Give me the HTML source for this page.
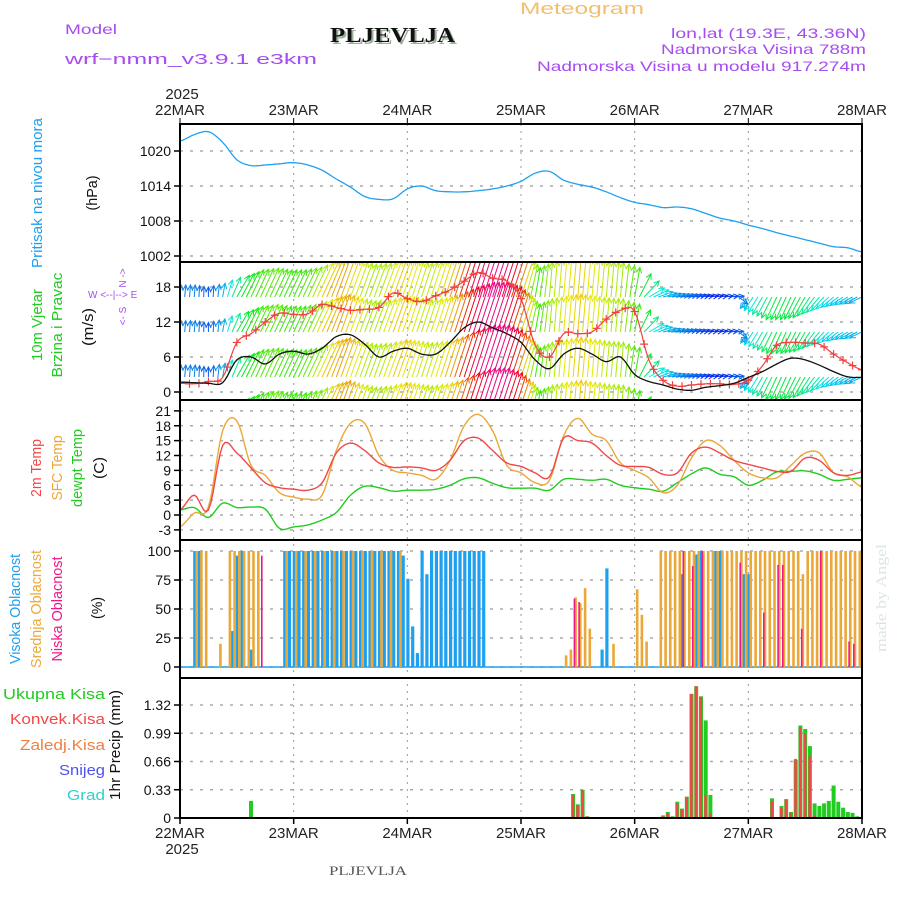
<!DOCTYPE html>
<html><head><meta charset="utf-8"><style>
html,body{margin:0;padding:0;background:#fff}
svg{display:block;font-family:"Liberation Sans",sans-serif}
</style></head><body>
<svg id="chart" width="900" height="900" viewBox="0 0 900 900" xmlns="http://www.w3.org/2000/svg">
<rect width="900" height="900" fill="#fff"/>
<text x="65" y="34" fill="#a64cf0" font-size="14" textLength="52" lengthAdjust="spacingAndGlyphs">Model</text>
<text x="65" y="64" fill="#a64cf0" font-size="15" textLength="252" lengthAdjust="spacingAndGlyphs">wrf−nmm_v3.9.1  e3km</text>
<text x="332" y="44" fill="#9ab09a" font-size="21" font-weight="bold" font-family="Liberation Serif,serif" textLength="125" lengthAdjust="spacingAndGlyphs">PLJEVLJA</text>
<text x="330" y="42" fill="#111" font-size="21" font-weight="bold" font-family="Liberation Serif,serif" textLength="125" lengthAdjust="spacingAndGlyphs">PLJEVLJA</text>
<text x="520" y="14" fill="#f0c070" font-size="17" textLength="124" lengthAdjust="spacingAndGlyphs">Meteogram</text>
<text x="866" y="38" fill="#a64cf0" font-size="14" text-anchor="end" textLength="195" lengthAdjust="spacingAndGlyphs">lon,lat (19.3E, 43.36N)</text>
<text x="866" y="54" fill="#a64cf0" font-size="14" text-anchor="end" textLength="205" lengthAdjust="spacingAndGlyphs">Nadmorska Visina 788m</text>
<text x="866" y="71" fill="#a64cf0" font-size="14" text-anchor="end" textLength="329" lengthAdjust="spacingAndGlyphs">Nadmorska Visina u modelu 917.274m</text>
<text x="329" y="875" fill="#555" font-size="13" font-family="Liberation Serif,serif" textLength="78" lengthAdjust="spacingAndGlyphs">PLJEVLJA</text>
<text transform="translate(886,652) rotate(-90)" fill="#dde6dd" font-size="15" font-family="Liberation Serif,serif" textLength="108" lengthAdjust="spacingAndGlyphs">made by Angel</text>
<g id="g"></g>
</svg>
<script>
// ---- data (3-hourly, h = 0..144) ----
const hours3 = [0,3,6,9,12,15,18,21,24,27,30,33,36,39,42,45,48,51,54,57,60,63,66,69,72,75,78,81,84,87,90,93,96,99,102,105,108,111,114,117,120,123,126,129,132,135,138,141,144];
const dayLabels = ["22MAR","23MAR","24MAR","25MAR","26MAR","27MAR","28MAR"];
const pressure = [1021.7,1022.8,1023.3,1021.5,1018.5,1017.5,1017.6,1017.8,1018.0,1017.6,1016.7,1015.2,1013.8,1012.2,1011.7,1011.8,1013.5,1014.0,1013.2,1013.0,1013.0,1013.2,1013.5,1014.0,1014.8,1016.2,1016.5,1015.0,1014.3,1013.8,1013.0,1012.0,1011.2,1010.8,1010.3,1010.4,1010.1,1009.3,1008.5,1008.0,1007.3,1006.7,1006.0,1005.4,1004.8,1004.2,1003.6,1003.4,1002.7];
const pressTicks = [1002,1008,1014,1020];
const windSpeed = [1.7,1.6,1.5,1.6,5.5,6,4.8,6.5,7,6.5,7.5,9.5,9.8,8.2,6,7,7.5,6.5,6.5,8.5,11,12,11,10,8.5,5.5,4,6.5,7.5,6.5,5.2,6,3,1.8,1.2,0.5,0.3,0.8,1.1,1.5,2.5,3.5,4.8,5.8,5.5,4.6,3.5,2.6,2.5];
const windGust = [1.5,1.4,1.8,2.5,8.5,10,12,13.5,13.3,13.4,15,14.5,14,14.2,14.5,17,16,15.5,16.5,17.5,19,20.5,19.5,19,16,8,6,10,10,10.3,12.5,14,13.8,5.5,2,1,1.2,1.4,1.4,1.3,2,4.5,8,8.5,8.4,8.2,6.5,5,3.8];
const arrowLen = [12,12,10,14,25,30,32,30,30,33,40,42,38,35,36,40,38,36,38,42,50,55,55,50,40,30,35,38,40,38,36,35,30,18,14,12,10,8,8,10,14,20,25,25,24,20,16,15,14];
const arrowDir = [5,5,0,10,30,25,25,25,25,25,25,20,20,20,20,20,18,18,18,18,18,18,18,18,18,10,5,5,5,5,5,5,10,60,75,80,80,80,80,85,215,210,205,205,210,220,230,240,245];
const windTicks = [0,6,12,18];
const temp2m = [1,4,1,14,12.5,9.5,6.5,5.5,5.2,5,6.5,12.5,14.5,13,10.5,9.6,9.7,9.5,9,11,15,15.5,13,10.5,9.8,8.5,7.7,15.5,15,14.5,12,10,9.8,9.6,8.2,8.5,12.5,13.7,12.5,11,10.2,9.5,8.8,8.8,11.5,11,8.5,8,8.7];
const tempSfc = [-2.4,0.4,1.6,17,19,10,8,4.5,3.6,3.2,4,13,18.5,18.5,12,9,8.5,8,7.2,11,18,20.3,17,10,8.5,6.5,7,16,19.5,16.3,15,10.5,9,7.5,4.5,6,11.5,15,14,11,8.5,7.5,7.5,10,12.5,12.5,8.5,7.7,5.6];
const tempDew = [1,1.5,-0.5,2.4,1.5,1.6,1.2,-2.7,-2.4,-2,-1,0.5,4,5.8,5.5,4.8,5,5,5.2,6,7.3,7.5,6.4,5.5,5.4,5.4,5,7.2,7.2,7,7.2,6,5.5,5.2,4.8,6.5,8.3,9.5,8.2,7.7,6,7,8.7,8.8,8.9,8.2,7,7.2,7.5];
const tempTicks = [-3,0,3,6,9,12,15,18,21];
const cloudTicks = [0,25,50,75,100];
const precipTicks = [0,0.33,0.66,0.99,1.32];
// hourly cloud cover (%), listed as [hour, value]
const cloudHigh = [[3,100],[4,100],[11,31],[12,96],[13,100],[15,15],[22,100],[23,100],[24,100],[25,100],[26,100],[27,100],[28,100],[29,100],[30,100],[31,100],[32,100],[33,100],[34,100],[35,100],[36,100],[37,100],[38,100],[39,100],[40,100],[41,100],[42,100],[43,100],[44,100],[45,100],[46,100],[47,96],[48,76],[49,35],[50,12],[51,100],[52,80],[53,100],[54,100],[55,100],[56,100],[57,100],[58,100],[59,100],[60,100],[61,100],[62,100],[63,100],[64,100],[89,15],[90,85],[106,80],[109,97],[110,100],[113,100],[114,100],[119,80],[120,80]];
const cloudMid = [[3,100],[4,100],[5,100],[8,20],[10,100],[11,100],[12,100],[13,100],[14,100],[15,100],[16,100],[22,100],[24,100],[26,100],[28,100],[30,100],[32,100],[34,100],[36,100],[38,100],[40,100],[42,100],[44,100],[46,100],[81,10],[82,15],[83,60],[84,55],[85,68],[86,33],[91,20],[96,67],[97,45],[98,22],[101,100],[102,100],[103,100],[104,100],[105,100],[106,100],[107,100],[108,100],[109,100],[110,100],[111,100],[112,100],[113,100],[114,100],[115,100],[116,100],[117,100],[118,100],[119,100],[120,100],[121,100],[122,100],[123,100],[124,100],[125,100],[126,100],[127,100],[128,100],[129,100],[130,100],[131,80],[132,100],[133,100],[134,100],[135,100],[136,100],[137,100],[138,100],[139,100],[140,100],[141,100],[142,100],[143,100]];
const cloudLow = [[17,96],[83,59],[84,56],[106,100],[108,87],[110,100],[118,90],[123,47],[126,88],[127,88],[131,33],[135,100],[141,22],[142,20]];
// hourly precipitation [hour, total, convective]
const precip = [[15,0.2,0],[83,0.28,0.27],[84,0.16,0.15],[85,0.33,0.32],[86,0.02,0.02],[102,0.03,0.02],[103,0.07,0.05],[104,0.02,0],[105,0.19,0.17],[106,0.11,0.1],[107,0.25,0.24],[108,1.45,1.45],[109,1.54,1.54],[110,1.42,1.42],[111,1.14,0.27],[112,0.27,0.05],[125,0.23,0.2],[127,0.14,0.12],[128,0.22,0.22],[129,0.07,0.06],[130,0.68,0.69],[131,1.08,1.06],[132,1.04,0.99],[133,0.84,0.72],[134,0.17,0.03],[135,0.14,0],[136,0.17,0],[137,0.2,0],[138,0.38,0],[139,0.19,0],[140,0.12,0],[141,0.07,0],[142,0.06,0],[143,0.02,0]];

// ---- scales ----
const X0=180,X1=862;
const xh=h=>X0+(X1-X0)*h/144;
const yP=v=>256-(v-1002)*35/6;
const yW=v=>392-v*35/6;
const yT=v=>515-v*119/24;
const yC=v=>667-v*116/100;
const yR=v=>818-v*113/1.32;
const NS="http://www.w3.org/2000/svg";
const g=document.getElementById('g');
function mk(tag,attrs,parent){const e=document.createElementNS(NS,tag);for(const k in attrs)e.setAttribute(k,attrs[k]);(parent||g).appendChild(e);return e;}
// smooth: catmull-rom sampled hourly
function smoothVal(arr,h){const i=Math.min(47,Math.floor(h/3));const t=(h-hours3[i])/3;const p0=arr[Math.max(0,i-1)],p1=arr[i],p2=arr[i+1],p3=arr[Math.min(48,i+2)];return 0.5*((2*p1)+(-p0+p2)*t+(2*p0-5*p1+4*p2-p3)*t*t+(-p0+3*p1-3*p2+p3)*t*t*t);}
function lineStr(arr,ys){const pts=[];for(let h=0;h<=144;h+=0.5){pts.push(xh(h).toFixed(1)+','+ys(smoothVal(arr,h)).toFixed(1));}return pts.join(' ');}
function interp(arr,h){const i=Math.min(47,Math.floor(h/3));const t=(h-hours3[i])/3;return arr[i]*(1-t)+arr[i+1]*t;}

const panels=[[124,262],[262,400],[400,540],[540,678],[678,818]];
const grid=mk('g',{});


dayLabels.forEach((d,i)=>{if(i>0&&i<6){const l=mk('line',{x1:xh(i*24),x2:xh(i*24),y1:124,y2:818,stroke:'#999','stroke-dasharray':'2,5','stroke-width':1},grid);}});
function hgrid(ticks,ys,labelFmt,nameBase){ticks.forEach(t=>{const y=ys(t);const l=mk('line',{x1:X0,x2:X1,y1:y,y2:y,stroke:'#aaa','stroke-dasharray':'3,7','stroke-width':1.5},grid);const tx=mk('text',{x:171,y:y+5,'font-size':14,'text-anchor':'end',fill:'#111'});tx.textContent=labelFmt(t);const tk=mk('line',{x1:X0-6,x2:X0,y1:y,y2:y,stroke:'#000','stroke-width':1.5});});}
hgrid(pressTicks,yP,String,'pressure');
hgrid(windTicks,yW,String,'wind');
hgrid(tempTicks,yT,String,'temp');
hgrid(cloudTicks,yC,String,'cloud');
hgrid(precipTicks,yR,v=>v===0?'0':v.toFixed(2),'precip');

const pl=mk('polyline',{points:lineStr(pressure,yP),fill:'none',stroke:'#1ea0f0','stroke-width':1.3});



function hueFor(len){let h=275-len*5.6;if(h<0)h=360+h;return 'hsl('+h+',95%,47%)';}
const clipW=mk('clipPath',{id:'cw'});mk('rect',{x:X0,y:263,width:X1-X0,height:136},clipW);
const arrowsG=mk('g',{'clip-path':'url(#cw)'});


const baselines=[297,332,377,420];
baselines.forEach((by,ri)=>{for(let h=0;h<=144;h+=1){const L=interp(arrowLen,h)*(ri===1?0.95:1);const d=interp(arrowDir,h)*Math.PI/180;const x=xh(h);const ex=x+L*Math.sin(d),ey=by-L*Math.cos(d);const col=hueFor(interp(arrowLen,h));const a=mk('line',{x1:x.toFixed(1),y1:by,x2:ex.toFixed(1),y2:ey.toFixed(1),stroke:col,'stroke-width':1},arrowsG);const ang=Math.atan2(ey-by,ex-x);const hp=[[ex,ey],[ex-6*Math.cos(ang-0.45),ey-6*Math.sin(ang-0.45)],[ex-6*Math.cos(ang+0.45),ey-6*Math.sin(ang+0.45)]];const hd=mk('polyline',{points:hp[1].join(',')+' '+hp[0].join(',')+' '+hp[2].join(','),fill:'none',stroke:col,'stroke-width':1},arrowsG);}});
const gl=mk('polyline',{points:lineStr(windGust,yW),fill:'none',stroke:'#f04040','stroke-width':1.2,'clip-path':'url(#cw)'});


for(let h=0;h<=144;h+=2){const x=xh(h),y=yW(smoothVal(windGust,h));const m=mk('path',{d:`M${x-4},${y}h8M${x},${y-4}v8`,stroke:'#f04040','stroke-width':1.2,'clip-path':'url(#cw)'});}
const wl=mk('polyline',{points:lineStr(windSpeed,yW),fill:'none',stroke:'#111','stroke-width':1.3});



[[tempDew,'#20cc20','dewpoint-line'],[tempSfc,'#eba838','sfc-temp-line'],[temp2m,'#f04848','temp-2m-line']].forEach(([arr,c,n])=>{const p=mk('polyline',{points:lineStr(arr,yT),fill:'none',stroke:c,'stroke-width':1.4});});

const zl=mk('line',{x1:X0,x2:X1,y1:yC(0),y2:yC(0),stroke:'#1ea0f0','stroke-width':1.5});


function cbars(arr,col,off,w,name){arr.forEach(([h,v])=>{const y=yC(v);const r=mk('rect',{x:(xh(h)+off).toFixed(1),y:y.toFixed(1),width:w,height:(yC(0)-y).toFixed(1),fill:col});});}
cbars(cloudHigh,'#1ea0f0',-1,3.2,'high-cloud-bar');
cbars(cloudMid,'#eba838',1.2,2.6,'mid-cloud-bar');
cbars(cloudLow,'#f01888',0.5,1.6,'low-cloud-bar');

precip.forEach(([h,t,c])=>{const x=xh(h)-2;const r=mk('rect',{x:x.toFixed(1),y:yR(t).toFixed(1),width:4,height:(818-yR(t)).toFixed(1),fill:'#20cc20'});if(c>0){const r2=mk('rect',{x:(x+0.5).toFixed(1),y:yR(c).toFixed(1),width:2.6,height:(818-yR(c)).toFixed(1),fill:'#f04848'});}});

panels.forEach(([a,b],i)=>{const r=mk('rect',{x:X0,y:a,width:X1-X0,height:b-a,fill:'none',stroke:'#000','stroke-width':2});});
dayLabels.forEach((d,i)=>{const x=xh(i*24);const t1=mk('text',{x:x,y:115,'font-size':15,'text-anchor':'middle',fill:'#222'});t1.textContent=d;const t2=mk('text',{x:x,y:838,'font-size':15,'text-anchor':'middle',fill:'#222'});t2.textContent=d;const k=mk('line',{x1:x,x2:x,y1:818,y2:824,stroke:'#000','stroke-width':1.5});const k2=mk('line',{x1:x,x2:x,y1:118,y2:124,stroke:'#000','stroke-width':1});});
const y1=mk('text',{x:182,y:99,'font-size':15,'text-anchor':'middle',fill:'#222'});y1.textContent='2025';


const y2=mk('text',{x:182,y:854,'font-size':15,'text-anchor':'middle',fill:'#222'});y2.textContent='2025';



function vt(x,y,txt,col,size,name,len){const a={transform:`translate(${x},${y}) rotate(-90)`,'font-size':size,fill:col,'text-anchor':'middle'};if(len){a.textLength=len;a.lengthAdjust='spacingAndGlyphs';}const t=mk('text',a);t.textContent=txt;}
vt(42,193,'Pritisak na nivou mora','#1ea0f0',15,'pressure-title',150);
vt(97,193,'(hPa)','#111',15,'pressure-unit',35);
vt(42,325,'10m Vjetar','#20cc20',15,'wind-title',72);
vt(62,325,'Brzina i Pravac','#20cc20',15,'wind-subtitle',105);
vt(93,327,'(m/s)','#111',15,'wind-unit',38);
vt(41,468,'2m Temp','#f04848',15,'temp-2m-title',58);
vt(62,468,'SFC Temp','#eba838',15,'sfc-temp-title',65);
vt(82,468,'dewpt Temp','#20cc20',15,'dewpoint-title',78);
vt(104,468,'(C)','#111',15,'temp-unit',22);
vt(20,609,'Visoka Oblacnost','#1ea0f0',15,'high-cloud-title',110);
vt(41,609,'Srednja Oblacnost','#eba838',15,'mid-cloud-title',118);
vt(62,609,'Niska Oblacnost','#f01888',15,'low-cloud-title',105);
vt(102,608,'(%)','#111',15,'cloud-unit',22);
vt(120,745,'1hr Precip (mm)','#111',15,'precip-title',110);
const cp=mk('g',{fill:'#a64cf0','font-size':10});


const cv=mk('text',{transform:'translate(126,278) rotate(-90)','text-anchor':'middle','font-size':10,fill:'#a64cf0'},cp);cv.textContent='N ->';
const cs=mk('text',{transform:'translate(126,316) rotate(-90)','text-anchor':'middle','font-size':10,fill:'#a64cf0'},cp);cs.textContent='<- S';
const cl=mk('text',{x:88,y:298,'font-size':10,fill:'#a64cf0'},cp);cl.textContent='W  <--|-->  E';
[['Ukupna  Kisa','#20cc20',699,102],['Konvek.Kisa','#f04848',724,95],['Zaledj.Kisa','#f08040',750,85],['Snijeg','#5050f0',775,46],['Grad','#30d0d0',800,38]].forEach(([s,c,y,w])=>{const t=mk('text',{x:105,y:y,'text-anchor':'end','font-size':15,fill:c,textLength:w,lengthAdjust:'spacingAndGlyphs'});t.textContent=s;});
</script>
</body></html>
